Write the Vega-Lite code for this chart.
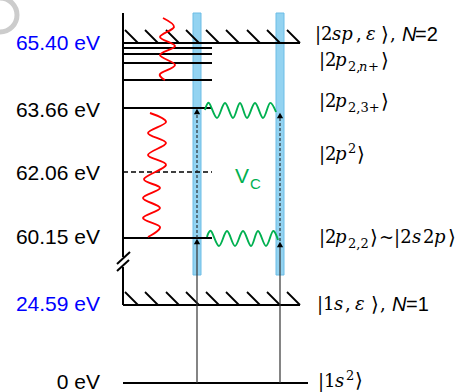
{
  "$schema": "https://vega.github.io/schema/vega-lite/v6.json",
  "width": 462,
  "height": 392,
  "padding": 0,
  "autosize": "none",
  "background": "white",
  "config": {"view": {"stroke": null}},
  "datasets": {
    "levels": [
      {"E": "65.40", "x": 123, "x2": 300, "y": 43, "y2": 43},
      {"E": "2p2,n+ a", "x": 123, "x2": 212, "y": 48, "y2": 48},
      {"E": "2p2,n+ b", "x": 123, "x2": 212, "y": 54, "y2": 54},
      {"E": "2p2,n+ c", "x": 123, "x2": 212, "y": 63, "y2": 63},
      {"E": "2p2,n+ d", "x": 123, "x2": 212, "y": 80, "y2": 80},
      {"E": "63.66", "x": 123, "x2": 212, "y": 108, "y2": 108},
      {"E": "60.15", "x": 123, "x2": 212, "y": 238, "y2": 238},
      {"E": "24.59", "x": 123, "x2": 300, "y": 305, "y2": 305},
      {"E": "0", "x": 123, "x2": 308, "y": 383, "y2": 383}
    ],
    "dashedLevels": [
      {"E": "62.06", "x": 123, "x2": 212, "y": 172, "y2": 172}
    ],
    "axisLine": [
      {"part": "upper", "x": 123, "x2": 123, "y": 13, "y2": 257},
      {"part": "lower", "x": 123, "x2": 123, "y": 267, "y2": 305},
      {"part": "break a", "x": 117, "x2": 130, "y": 264, "y2": 252},
      {"part": "break b", "x": 117, "x2": 129, "y": 271, "y2": 260}
    ],
    "hatches": [
      {"edge": "N=2", "x": 125, "x2": 138, "y": 30, "y2": 43},
      {"edge": "N=2", "x": 145, "x2": 158, "y": 30, "y2": 43},
      {"edge": "N=2", "x": 166, "x2": 179, "y": 30, "y2": 43},
      {"edge": "N=2", "x": 186, "x2": 199, "y": 30, "y2": 43},
      {"edge": "N=2", "x": 206, "x2": 219, "y": 30, "y2": 43},
      {"edge": "N=2", "x": 226, "x2": 239, "y": 30, "y2": 43},
      {"edge": "N=2", "x": 247, "x2": 260, "y": 30, "y2": 43},
      {"edge": "N=2", "x": 267, "x2": 280, "y": 30, "y2": 43},
      {"edge": "N=2", "x": 287, "x2": 300, "y": 30, "y2": 43},
      {"edge": "N=1", "x": 125, "x2": 138, "y": 292, "y2": 305},
      {"edge": "N=1", "x": 145, "x2": 158, "y": 292, "y2": 305},
      {"edge": "N=1", "x": 166, "x2": 179, "y": 292, "y2": 305},
      {"edge": "N=1", "x": 186, "x2": 199, "y": 292, "y2": 305},
      {"edge": "N=1", "x": 206, "x2": 219, "y": 292, "y2": 305},
      {"edge": "N=1", "x": 226, "x2": 239, "y": 292, "y2": 305},
      {"edge": "N=1", "x": 247, "x2": 260, "y": 292, "y2": 305},
      {"edge": "N=1", "x": 267, "x2": 280, "y": 292, "y2": 305},
      {"edge": "N=1", "x": 287, "x2": 300, "y": 292, "y2": 305}
    ],
    "pulses": [
      {"pulse": "first", "x": 193, "x2": 201, "y": 13, "y2": 275},
      {"pulse": "second", "x": 276, "x2": 284, "y": 13, "y2": 275}
    ],
    "excitation": [
      {"pulse": "first", "x": 197, "x2": 197, "y": 383, "y2": 241},
      {"pulse": "second", "x": 280, "x2": 280, "y": 383, "y2": 244}
    ],
    "probe": [
      {"pulse": "first", "x": 197, "x2": 197, "y": 238, "y2": 112},
      {"pulse": "second", "x": 280, "x2": 280, "y": 241, "y2": 116}
    ],
    "heads": [
      {"pulse": "first", "x": 197, "y": 241.5},
      {"pulse": "first", "x": 197, "y": 111.5},
      {"pulse": "second", "x": 280, "y": 244.5},
      {"pulse": "second", "x": 280, "y": 115.5}
    ],
    "waves": [
      {"id": "r1", "kind": "emission", "i": 0, "x": 163, "y": 18},
      {"id": "r1", "kind": "emission", "i": 1, "x": 174, "y": 27},
      {"id": "r1", "kind": "emission", "i": 2, "x": 160, "y": 37},
      {"id": "r1", "kind": "emission", "i": 3, "x": 175, "y": 46},
      {"id": "r1", "kind": "emission", "i": 4, "x": 160, "y": 55},
      {"id": "r1", "kind": "emission", "i": 5, "x": 175, "y": 65},
      {"id": "r1", "kind": "emission", "i": 6, "x": 160, "y": 74},
      {"id": "r1", "kind": "emission", "i": 7, "x": 165, "y": 80},
      {"id": "r2", "kind": "emission", "i": 0, "x": 150, "y": 113},
      {"id": "r2", "kind": "emission", "i": 1, "x": 166, "y": 122},
      {"id": "r2", "kind": "emission", "i": 2, "x": 148, "y": 133},
      {"id": "r2", "kind": "emission", "i": 3, "x": 166, "y": 143},
      {"id": "r2", "kind": "emission", "i": 4, "x": 148, "y": 155},
      {"id": "r2", "kind": "emission", "i": 5, "x": 166, "y": 165},
      {"id": "r2", "kind": "emission", "i": 6, "x": 144, "y": 179},
      {"id": "r2", "kind": "emission", "i": 7, "x": 160, "y": 188},
      {"id": "r2", "kind": "emission", "i": 8, "x": 143, "y": 198},
      {"id": "r2", "kind": "emission", "i": 9, "x": 160, "y": 208},
      {"id": "r2", "kind": "emission", "i": 10, "x": 143, "y": 218},
      {"id": "r2", "kind": "emission", "i": 11, "x": 160, "y": 227},
      {"id": "r2", "kind": "emission", "i": 12, "x": 148, "y": 237},
      {"id": "g1", "kind": "coupling", "i": 0, "x": 205, "y": 110},
      {"id": "g1", "kind": "coupling", "i": 1, "x": 209, "y": 103},
      {"id": "g1", "kind": "coupling", "i": 2, "x": 217, "y": 118},
      {"id": "g1", "kind": "coupling", "i": 3, "x": 225, "y": 103},
      {"id": "g1", "kind": "coupling", "i": 4, "x": 233, "y": 118},
      {"id": "g1", "kind": "coupling", "i": 5, "x": 240, "y": 103},
      {"id": "g1", "kind": "coupling", "i": 6, "x": 247, "y": 118},
      {"id": "g1", "kind": "coupling", "i": 7, "x": 255, "y": 103},
      {"id": "g1", "kind": "coupling", "i": 8, "x": 263, "y": 118},
      {"id": "g1", "kind": "coupling", "i": 9, "x": 270, "y": 103},
      {"id": "g1", "kind": "coupling", "i": 10, "x": 276, "y": 112},
      {"id": "g2", "kind": "coupling", "i": 0, "x": 207, "y": 237},
      {"id": "g2", "kind": "coupling", "i": 1, "x": 211, "y": 231},
      {"id": "g2", "kind": "coupling", "i": 2, "x": 219, "y": 246},
      {"id": "g2", "kind": "coupling", "i": 3, "x": 227, "y": 231},
      {"id": "g2", "kind": "coupling", "i": 4, "x": 235, "y": 246},
      {"id": "g2", "kind": "coupling", "i": 5, "x": 243, "y": 231},
      {"id": "g2", "kind": "coupling", "i": 6, "x": 251, "y": 246},
      {"id": "g2", "kind": "coupling", "i": 7, "x": 258, "y": 231},
      {"id": "g2", "kind": "coupling", "i": 8, "x": 266, "y": 246},
      {"id": "g2", "kind": "coupling", "i": 9, "x": 273, "y": 231},
      {"id": "g2", "kind": "coupling", "i": 10, "x": 278, "y": 240}
    ],
    "energies": [
      {"label": "65.40 eV", "tone": "threshold", "x": 100, "y": 44},
      {"label": "63.66 eV", "tone": "level", "x": 100, "y": 111},
      {"label": "62.06 eV", "tone": "level", "x": 100, "y": 174},
      {"label": "60.15 eV", "tone": "level", "x": 100, "y": 238},
      {"label": "24.59 eV", "tone": "threshold", "x": 100, "y": 305},
      {"label": "0 eV", "tone": "level", "x": 100, "y": 383}
    ],
    "kets": [
      {"t": "|2", "part": "up", "x": 315, "y": 35},
      {"t": "sp", "part": "it", "x": 332, "y": 35},
      {"t": ",", "part": "up", "x": 356, "y": 35},
      {"t": "ε", "part": "it", "x": 366, "y": 35},
      {"t": "⟩", "part": "br", "x": 381, "y": 35},
      {"t": ",", "part": "up", "x": 390, "y": 35},
      {"t": "N", "part": "sansit", "x": 402, "y": 35},
      {"t": "=2", "part": "sans", "x": 415, "y": 35},

      {"t": "|2", "part": "up", "x": 319, "y": 61},
      {"t": "p", "part": "it", "x": 335, "y": 61},
      {"t": "2,", "part": "sub", "x": 348, "y": 67},
      {"t": "n", "part": "subit", "x": 359, "y": 67},
      {"t": "+", "part": "sub", "x": 368, "y": 67},
      {"t": "⟩", "part": "br", "x": 381, "y": 61},

      {"t": "|2", "part": "up", "x": 319, "y": 102},
      {"t": "p", "part": "it", "x": 335, "y": 102},
      {"t": "2,3+", "part": "sub", "x": 348, "y": 108},
      {"t": "⟩", "part": "br", "x": 381, "y": 102},

      {"t": "|2", "part": "up", "x": 319, "y": 155},
      {"t": "p", "part": "it", "x": 335, "y": 155},
      {"t": "2", "part": "sub", "x": 348, "y": 149},
      {"t": "⟩", "part": "br", "x": 357, "y": 155},

      {"t": "|2", "part": "up", "x": 319, "y": 238},
      {"t": "p", "part": "it", "x": 335, "y": 238},
      {"t": "2,2", "part": "sub", "x": 348, "y": 244},
      {"t": "⟩", "part": "br", "x": 370, "y": 238},
      {"t": "~|2", "part": "up", "x": 379, "y": 238},
      {"t": "s", "part": "it", "x": 412, "y": 238},
      {"t": "2", "part": "up", "x": 423, "y": 238},
      {"t": "p", "part": "it", "x": 434, "y": 238},
      {"t": "⟩", "part": "br", "x": 448, "y": 238},

      {"t": "|1", "part": "up", "x": 317, "y": 305},
      {"t": "s", "part": "it", "x": 334, "y": 305},
      {"t": ",", "part": "up", "x": 345, "y": 305},
      {"t": "ε", "part": "it", "x": 355, "y": 305},
      {"t": "⟩", "part": "br", "x": 371, "y": 305},
      {"t": ",", "part": "up", "x": 380, "y": 305},
      {"t": "N", "part": "sansit", "x": 392, "y": 305},
      {"t": "=1", "part": "sans", "x": 406, "y": 305},

      {"t": "|1", "part": "up", "x": 318, "y": 382},
      {"t": "s", "part": "it", "x": 335, "y": 382},
      {"t": "2", "part": "sub", "x": 346, "y": 376},
      {"t": "⟩", "part": "br", "x": 355, "y": 381}
    ],
    "coupling": [
      {"t": "V", "part": "main", "x": 235, "y": 177},
      {"t": "C", "part": "sub", "x": 250, "y": 184}
    ],
    "badge": [
      {"x": 0, "y": 15}
    ]
  },
  "encoding": {
    "x": {"field": "x", "type": "quantitative", "scale": {"domain": [0, 462], "nice": false, "zero": false}, "axis": null},
    "y": {"field": "y", "type": "quantitative", "scale": {"domain": [0, 392], "nice": false, "zero": false, "reverse": true}, "axis": null}
  },
  "layer": [
    {
      "data": {"name": "badge"},
      "mark": {"type": "point", "shape": "M0,-1A1,1,0,0,1,0,1", "size": 1156, "filled": false, "stroke": "#cccccc", "strokeWidth": 5, "opacity": 1}
    },
    {
      "data": {"name": "pulses"},
      "mark": {"type": "rect", "fill": "#93d3f1", "stroke": "#6cbde6", "strokeWidth": 1},
      "encoding": {"x2": {"field": "x2"}, "y2": {"field": "y2"}}
    },
    {
      "data": {"name": "levels"},
      "mark": {"type": "rule", "color": "#000000", "strokeWidth": 2},
      "encoding": {"x2": {"field": "x2"}, "y2": {"field": "y2"}}
    },
    {
      "data": {"name": "dashedLevels"},
      "mark": {"type": "rule", "color": "#000000", "strokeWidth": 1.6, "strokeDash": [5, 3]},
      "encoding": {"x2": {"field": "x2"}, "y2": {"field": "y2"}}
    },
    {
      "data": {"name": "hatches"},
      "mark": {"type": "rule", "color": "#000000", "strokeWidth": 1.8},
      "encoding": {"x2": {"field": "x2"}, "y2": {"field": "y2"}}
    },
    {
      "data": {"name": "axisLine"},
      "mark": {"type": "rule", "color": "#000000", "strokeWidth": 2},
      "encoding": {"x2": {"field": "x2"}, "y2": {"field": "y2"}}
    },
    {
      "data": {"name": "excitation"},
      "mark": {"type": "rule", "color": "#333333", "strokeWidth": 1.2},
      "encoding": {"x2": {"field": "x2"}, "y2": {"field": "y2"}}
    },
    {
      "data": {"name": "probe"},
      "mark": {"type": "rule", "color": "#222222", "strokeWidth": 1.1, "strokeDash": [3, 2]},
      "encoding": {"x2": {"field": "x2"}, "y2": {"field": "y2"}}
    },
    {
      "data": {"name": "heads"},
      "mark": {"type": "point", "shape": "triangle-up", "size": 40, "filled": true, "color": "#000000", "opacity": 1}
    },
    {
      "data": {"name": "waves"},
      "transform": [{"filter": "datum.kind === 'emission'"}],
      "mark": {"type": "line", "interpolate": "cardinal", "tension": 0, "strokeWidth": 1.9, "color": "#ff0000"},
      "encoding": {
        "detail": {"field": "id"},
        "order": {"field": "i", "type": "quantitative"}
      }
    },
    {
      "data": {"name": "waves"},
      "transform": [{"filter": "datum.kind === 'coupling'"}],
      "mark": {"type": "line", "interpolate": "cardinal", "tension": 0, "strokeWidth": 1.9, "color": "#00b050"},
      "encoding": {
        "detail": {"field": "id"},
        "order": {"field": "i", "type": "quantitative"}
      }
    },
    {
      "data": {"name": "energies"},
      "transform": [{"filter": "datum.tone === 'threshold'"}],
      "mark": {"type": "text", "align": "right", "baseline": "middle", "font": "Liberation Sans", "fontSize": 21, "color": "#0000ff"},
      "encoding": {"text": {"field": "label"}}
    },
    {
      "data": {"name": "energies"},
      "transform": [{"filter": "datum.tone === 'level'"}],
      "mark": {"type": "text", "align": "right", "baseline": "middle", "font": "Liberation Sans", "fontSize": 21, "color": "#000000"},
      "encoding": {"text": {"field": "label"}}
    },
    {
      "data": {"name": "kets"},
      "transform": [{"filter": "datum.part === 'up'"}],
      "mark": {"type": "text", "align": "left", "baseline": "middle", "font": "DejaVu Serif", "fontSize": 18, "color": "#000000"},
      "encoding": {"text": {"field": "t"}}
    },
    {
      "data": {"name": "kets"},
      "transform": [{"filter": "datum.part === 'br'"}],
      "mark": {"type": "text", "align": "left", "baseline": "middle", "font": "DejaVu Sans", "fontSize": 20, "color": "#000000"},
      "encoding": {"text": {"field": "t"}}
    },
    {
      "data": {"name": "kets"},
      "transform": [{"filter": "datum.part === 'it'"}],
      "mark": {"type": "text", "align": "left", "baseline": "middle", "font": "DejaVu Serif", "fontStyle": "italic", "fontSize": 18, "color": "#000000"},
      "encoding": {"text": {"field": "t"}}
    },
    {
      "data": {"name": "kets"},
      "transform": [{"filter": "datum.part === 'sub'"}],
      "mark": {"type": "text", "align": "left", "baseline": "middle", "font": "DejaVu Serif", "fontSize": 13, "color": "#000000"},
      "encoding": {"text": {"field": "t"}}
    },
    {
      "data": {"name": "kets"},
      "transform": [{"filter": "datum.part === 'subit'"}],
      "mark": {"type": "text", "align": "left", "baseline": "middle", "font": "DejaVu Serif", "fontStyle": "italic", "fontSize": 13, "color": "#000000"},
      "encoding": {"text": {"field": "t"}}
    },
    {
      "data": {"name": "kets"},
      "transform": [{"filter": "datum.part === 'sans'"}],
      "mark": {"type": "text", "align": "left", "baseline": "middle", "font": "Liberation Sans", "fontSize": 20, "color": "#000000"},
      "encoding": {"text": {"field": "t"}}
    },
    {
      "data": {"name": "kets"},
      "transform": [{"filter": "datum.part === 'sansit'"}],
      "mark": {"type": "text", "align": "left", "baseline": "middle", "font": "Liberation Sans", "fontStyle": "italic", "fontSize": 20, "color": "#000000"},
      "encoding": {"text": {"field": "t"}}
    },
    {
      "data": {"name": "coupling"},
      "transform": [{"filter": "datum.part === 'main'"}],
      "mark": {"type": "text", "align": "left", "baseline": "middle", "font": "Liberation Sans", "fontSize": 21, "color": "#00b050"},
      "encoding": {"text": {"field": "t"}}
    },
    {
      "data": {"name": "coupling"},
      "transform": [{"filter": "datum.part === 'sub'"}],
      "mark": {"type": "text", "align": "left", "baseline": "middle", "font": "Liberation Sans", "fontSize": 15, "color": "#00b050"},
      "encoding": {"text": {"field": "t"}}
    }
  ]
}
